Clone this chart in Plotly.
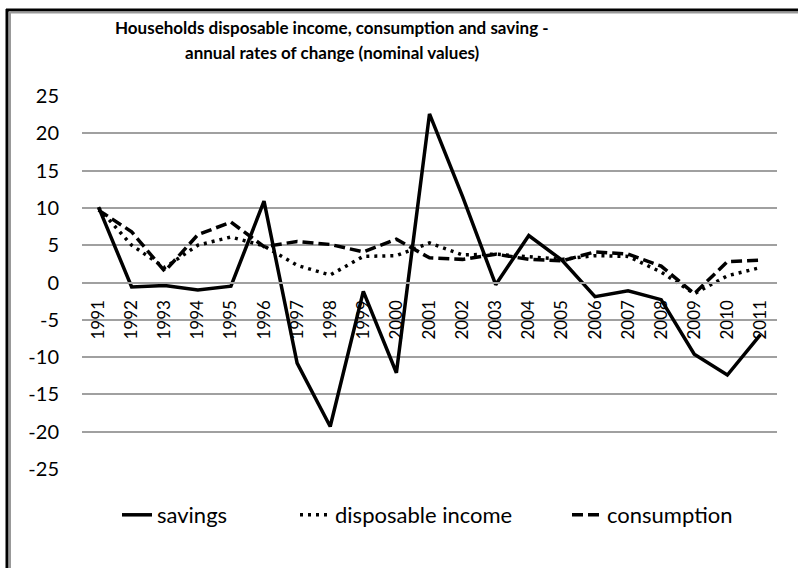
import plotly.graph_objects as go

# annual rates of change
years = [str(y) for y in range(1991, 2012)]
savings = [10.1, -0.6, -0.4, -1.0, -0.5, 10.9, -10.8, -19.3, -1.2, -12.1,
           22.6, 11.5, -0.3, 6.3, 3.0, -1.9, -1.1, -2.3, -9.6, -12.4, -7.0]
disposable_income = [10.0, 5.0, 2.0, 5.0, 6.1, 4.9, 2.3, 1.0, 3.5, 3.6,
                     5.3, 3.7, 3.8, 3.5, 3.1, 3.6, 3.5, 1.4, -1.5, 0.9, 2.0]
consumption = [9.7, 6.8, 1.5, 6.4, 8.1, 4.8, 5.5, 5.1, 4.1, 5.8,
               3.3, 3.1, 3.8, 3.1, 2.9, 4.1, 3.8, 2.2, -1.5, 2.8, 3.0]
y_ticks = list(range(-25, 30, 5))
y_ticktext = [str(v) for v in y_ticks]  # plain hyphen like Excel
title_lines = ["Households disposable income, consumption and saving -",
               "annual rates of change (nominal values)"]

W, H = 798, 568
L, R, T, B = 82, 21, 96, 99
pw, ph = W - L - R, H - T - B


# pixel -> paper helpers (only used for the frame, title and the legends)
def fx(px):
    return (px - L) / pw


def fy(py):
    return (H - B - py) / ph


FONT = "Lato"

fig = go.Figure()
fig.add_trace(go.Scatter(x=years, y=savings, name="savings", mode="lines",
                         line=dict(color="black", width=3.5), legend="legend"))
fig.add_trace(go.Scatter(x=years, y=disposable_income, name="disposable income", mode="lines",
                         line=dict(color="black", width=3.5, dash="3px,5px"), legend="legend2"))
fig.add_trace(go.Scatter(x=years, y=consumption, name="consumption", mode="lines",
                         line=dict(color="black", width=3.5, dash="11px,5px"), legend="legend3"))

leg = dict(orientation="h", yanchor="middle", y=fy(515), xanchor="left",
           bgcolor="rgba(0,0,0,0)", font=dict(family=FONT, size=22, color="black"))

# two-line title, drawn as annotations so the line spacing can be set
for line_text, py in zip(title_lines, [27, 53]):
    fig.add_annotation(text=line_text, xref="paper", yref="paper",
                       x=fx(332), y=fy(py), xanchor="center", yanchor="middle",
                       showarrow=False,
                       font=dict(family=FONT, size=17, color="black", weight="bold"))

fig.update_layout(
    width=W, height=H,
    margin=dict(l=L, r=R, t=T, b=B),
    paper_bgcolor="white", plot_bgcolor="white",
    showlegend=True,
    legend=dict(leg, x=fx(117)),
    legend2=dict(leg, x=fx(295)),
    legend3=dict(leg, x=fx(567)),
    xaxis=dict(type="category", range=[-0.5, 20.5], anchor="free", position=0.5,
               showgrid=False, showline=True, linecolor="#a0a0a0", linewidth=1.5,
               ticks="", tickangle=-90, ticklabelstandoff=10,
               tickfont=dict(family=FONT, size=17, color="black")),
    yaxis=dict(range=[-25, 25], tickvals=y_ticks, ticktext=y_ticktext,
               showgrid=True, gridcolor="#a0a0a0",
               gridwidth=1.5, zeroline=False, showline=False, ticks="",
               ticklabelstandoff=22,
               tickfont=dict(family=FONT, size=20, color="black")),
    shapes=[
        dict(type="line", xref="paper", yref="paper", x0=fx(7), x1=fx(7), y0=fy(9), y1=fy(H),
             line=dict(color="black", width=3)),
        dict(type="line", xref="paper", yref="paper", x0=fx(6), x1=fx(W), y0=fy(10), y1=fy(10),
             line=dict(color="black", width=3)),
        dict(type="line", xref="paper", yref="paper", x0=fx(10), x1=fx(10), y0=fy(11), y1=fy(H),
             line=dict(color="#999999", width=2)),
        dict(type="line", xref="paper", yref="paper", x0=fx(9), x1=fx(W), y0=fy(12.5), y1=fy(12.5),
             line=dict(color="#999999", width=2)),
    ],
)

# drop the default 8px page margin so the figure sits at the window's corner
fig.write_html("out.html", config={"displayModeBar": False},
               post_script="document.body.style.margin='0';")
